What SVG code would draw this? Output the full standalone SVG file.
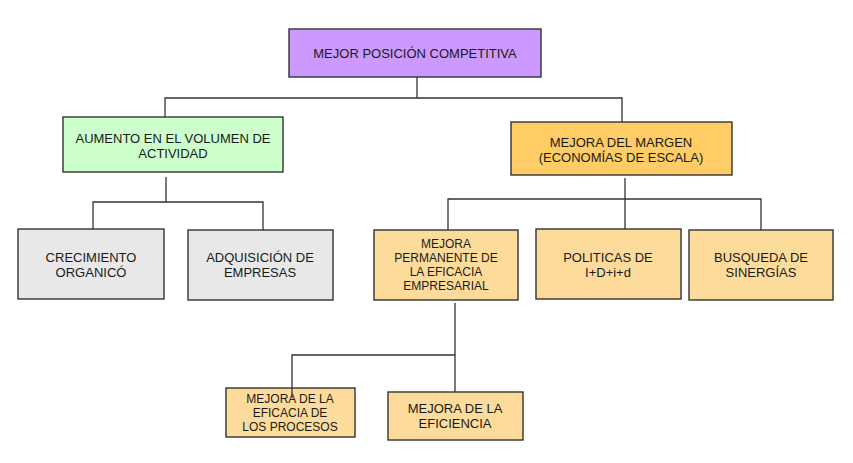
<svg xmlns="http://www.w3.org/2000/svg" width="853" height="463" viewBox="0 0 853 463">
<style>
.b{stroke:#333;stroke-width:1.4}
.c{fill:none;stroke:#333;stroke-width:1.3}
text{font-family:"Liberation Sans",Arial,sans-serif;font-size:13px;fill:#1a1a1a;text-anchor:middle}
.s{font-size:12px}
</style>
<rect width="853" height="463" fill="#fff"/>
<g id="n-top"><rect class="b" x="289" y="29" width="252" height="48" fill="#cc99ff"/><text x="415" y="58">MEJOR POSICIÓN COMPETITIVA</text></g>
<g id="n-aumento"><rect class="b" x="63" y="117" width="220" height="55" fill="#ccffcc"/><text x="173" y="143">AUMENTO EN EL VOLUMEN DE</text><text x="173" y="158">ACTIVIDAD</text></g>
<g id="n-margen"><rect class="b" x="511" y="122" width="221" height="53" fill="#ffcc66"/><text x="621" y="147">MEJORA DEL MARGEN</text><text x="621" y="162">(ECONOMÍAS DE ESCALA)</text></g>
<g id="n-crec"><rect class="b" x="18" y="229" width="146" height="70" fill="#e8e8e8"/><text x="91" y="262">CRECIMIENTO</text><text x="91" y="277">ORGANICÓ</text></g>
<g id="n-adq"><rect class="b" x="188" y="230" width="145" height="70" fill="#e8e8e8"/><text x="260" y="262">ADQUISICIÓN DE</text><text x="260" y="277">EMPRESAS</text></g>
<g id="n-perm"><rect class="b" x="374" y="230" width="144" height="70" fill="#fddc9b"/><text class="s" x="446" y="248">MEJORA</text><text class="s" x="446" y="262">PERMANENTE DE</text><text class="s" x="446" y="276">LA EFICACIA</text><text class="s" x="446" y="290">EMPRESARIAL</text></g>
<g id="n-pol"><rect class="b" x="536" y="229" width="145" height="70" fill="#fddc9b"/><text x="608" y="262">POLITICAS DE</text><text x="608" y="277">I+D+i+d</text></g>
<g id="n-bus"><rect class="b" x="689" y="230" width="144" height="70" fill="#fddc9b"/><text x="761" y="262">BUSQUEDA DE</text><text x="761" y="277">SINERGÍAS</text></g>
<g id="n-proc"><rect class="b" x="226" y="388" width="129" height="49" fill="#fddc9b"/><text class="s" x="290" y="403">MEJORA DE LA</text><text class="s" x="290" y="417">EFICACIA DE</text><text class="s" x="290" y="431">LOS PROCESOS</text></g>
<g id="n-efi"><rect class="b" x="388" y="392" width="135" height="48" fill="#fddc9b"/><text x="455" y="413">MEJORA DE LA</text><text x="455" y="428">EFICIENCIA</text></g>
<g id="connectors">
<path class="c" d="M417 77V98M165 117V98H622V122"/>
<path class="c" d="M166 177V202M93 229V202H263V230"/>
<path class="c" d="M625 178V229M448 230V199H761V230"/>
<path class="c" d="M455 303V392M455 355H292V398"/>
</g>
</svg>
